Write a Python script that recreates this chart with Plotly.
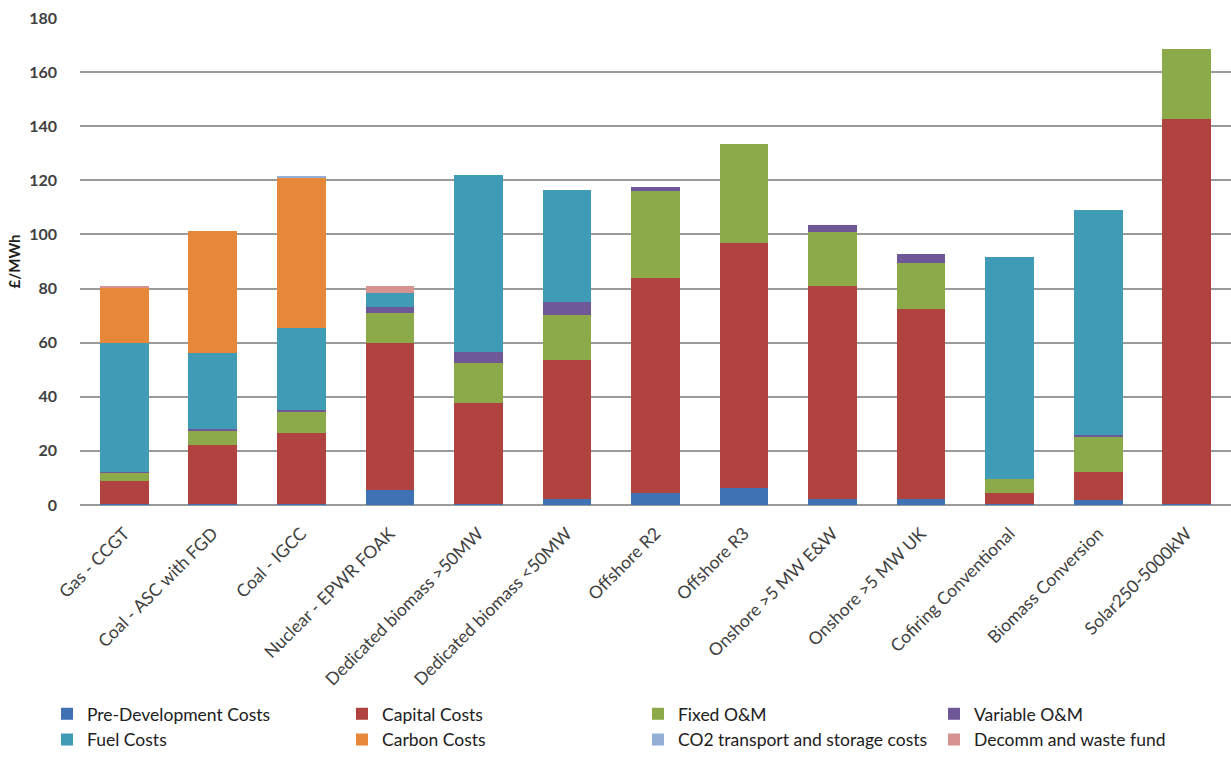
import plotly.graph_objects as go

categories = ["Gas - CCGT", "Coal - ASC with FGD", "Coal - IGCC", "Nuclear - EPWR FOAK",
              "Dedicated biomass >50MW", "Dedicated biomass <50MW", "Offshore R2", "Offshore R3",
              "Onshore >5 MW E&W", "Onshore >5 MW UK", "Cofiring Conventional",
              "Biomass Conversion", "Solar250-5000kW"]

pre_dev   = [0.3, 0.3, 0.3, 5.5, 0.5, 2.2, 4.3, 6.2, 2.2, 2.2, 0.3, 1.8, 0.5]
capital   = [8.6, 21.9, 26.2, 54.3, 37.3, 51.4, 79.5, 90.6, 78.9, 70.2, 4.3, 10.5, 142.3]
fixed_om  = [3.0, 5.5, 7.9, 11.1, 14.6, 16.7, 32.1, 36.7, 19.8, 17.0, 5.0, 13.0, 25.7]
var_om    = [0.3, 0.5, 0.8, 2.2, 4.3, 4.9, 1.6, 0.0, 2.7, 3.4, 0.0, 0.6, 0.0]
fuel      = [47.8, 27.9, 30.2, 5.4, 65.1, 41.3, 0.0, 0.0, 0.0, 0.0, 82.0, 83.2, 0.0]
carbon    = [20.5, 45.2, 55.8, 0.0, 0.0, 0.0, 0.0, 0.0, 0.0, 0.0, 0.0, 0.0, 0.0]
co2_ts    = [0.0, 0.0, 0.2, 0.0, 0.0, 0.0, 0.0, 0.0, 0.0, 0.0, 0.0, 0.0, 0.0]
decomm    = [0.3, 0.0, 0.0, 2.3, 0.0, 0.0, 0.0, 0.0, 0.0, 0.0, 0.0, 0.0, 0.0]

# (name, values, colour, legend column)
series = [
    ("Pre-Development Costs", pre_dev, "#3E72B4", "legend"),
    ("Capital Costs", capital, "#B0433F", "legend2"),
    ("Fixed O&M", fixed_om, "#8DAA4A", "legend3"),
    ("Variable O&M", var_om, "#6E5898", "legend4"),
    ("Fuel Costs", fuel, "#3F9BB6", "legend"),
    ("Carbon Costs", carbon, "#E6873A", "legend2"),
    ("CO2 transport and storage costs", co2_ts, "#93AFD6", "legend3"),
    ("Decomm and waste fund", decomm, "#D6928F", "legend4"),
]

fig = go.Figure()
for name, vals, col, lg in series:
    fig.add_trace(go.Bar(name=name, x=categories, y=vals, marker_color=col,
                         marker_line_width=0, legend=lg))

FONT = "Lato, Open Sans, sans-serif"
plot_l, plot_w = 80, 1151


def legend_at(px_left):
    return dict(orientation="v", x=(px_left - plot_l) / plot_w, xanchor="left",
                y=-0.392, yanchor="top", itemwidth=30, tracegroupgap=0,
                font=dict(size=17.5, color="#202020", family=FONT),
                traceorder="normal", bgcolor="rgba(0,0,0,0)")


fig.update_layout(
    barmode="stack",
    bargap=0.45,
    width=1231, height=765,
    margin=dict(l=plot_l, r=0, t=18, b=260, autoexpand=False),
    plot_bgcolor="white", paper_bgcolor="white",
    font=dict(family=FONT, color="#404040"),
    xaxis=dict(tickangle=-45, tickfont=dict(size=17.5, color="#404040"),
               showgrid=False, showline=False, ticks="", automargin=False,
               ticklabelstandoff=14),
    yaxis=dict(range=[0, 180], dtick=20, showgrid=True, gridcolor="#9A9A9A", gridwidth=1.5,
               zeroline=True, zerolinecolor="#9A9A9A", zerolinewidth=1.5,
               tickfont=dict(size=16, color="#404040", family=FONT, weight="bold"),
               ticklabelstandoff=22, automargin=False,
               title=dict(text="<b>£/MWh</b>", font=dict(size=15, color="#202020"), standoff=4)),
    legend=legend_at(47),
    legend2=legend_at(342),
    legend3=legend_at(638),
    legend4=legend_at(934),
    showlegend=True,
)

fig.write_html("out.html")
